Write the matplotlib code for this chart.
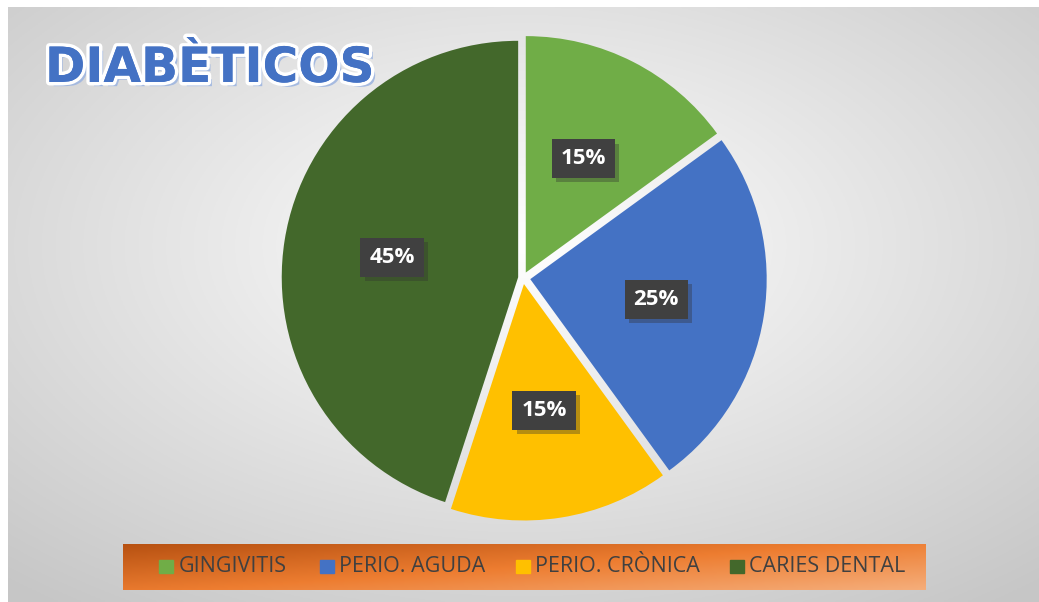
import numpy as np
import matplotlib.pyplot as plt
import matplotlib.patheffects as pe
from matplotlib.patches import Rectangle

labels = ['GINGIVITIS', 'PERIO. AGUDA', 'PERIO. CRÒNICA', 'CARIES DENTAL']
values = [15, 25, 15, 45]
colors = ['#70ad47', '#4472c4', '#ffc000', '#43682b']
title = 'DIABÈTICOS'

fig = plt.figure(figsize=(10.39, 6.02), dpi=100)
fig.patch.set_facecolor('white')

# background: radial grey gradient
bg = fig.add_axes([8/1039, 0, 1 - 8/1039, 1 - 7/602])
yy, xx = np.mgrid[0:300, 0:520]
cx, cy = 260, 120
r = np.sqrt(((xx - cx) / 520.0) ** 2 + ((yy - cy) / 300.0) ** 2)
r = np.clip(r / 0.75, 0, 1)
g = 1.0 - 0.22 * r
bg.imshow(np.dstack([g, g, g]), aspect='auto', extent=[0, 1, 0, 1], origin='upper')
bg.set_xlim(0, 1)
bg.set_ylim(0, 1)
bg.axis('off')

# legend bar with orange gradient
lx0, lx1 = 123 / 1039, 926 / 1039
ly0, ly1 = 1 - 590 / 602, 1 - 544 / 602
lg = fig.add_axes([lx0, ly0, lx1 - lx0, ly1 - ly0])
gx, gy = np.meshgrid(np.linspace(0, 1, 200), np.linspace(0, 1, 40))
t = np.clip(0.55 * gx + 0.45 * gy, 0, 1)
c0 = np.array([0.72, 0.32, 0.07])
c1 = np.array([0.93, 0.49, 0.19])
c2 = np.array([0.96, 0.68, 0.48])
img = np.where(t[..., None] < 0.5,
               c0 + (c1 - c0) * (t[..., None] / 0.5),
               c1 + (c2 - c1) * ((t[..., None] - 0.5) / 0.5))
lg.imshow(img, aspect='auto', extent=[0, 1, 0, 1], origin='upper')
lg.set_xlim(0, 1)
lg.set_ylim(0, 1)
lg.axis('off')

xs = [0.045, 0.245, 0.489, 0.756]
for x, lab, col in zip(xs, labels, colors):
    lg.add_patch(Rectangle((x, 0.37), 0.0174, 0.29, color=col, transform=lg.transAxes))
    lg.text(x + 0.024, 0.5, lab, transform=lg.transAxes, va='center', ha='left',
            fontsize=15.5, color='#404040', family='Open Sans')

# pie
ax = fig.add_axes([278/1039, 1 - 523/602, 490/1039, 490/602])
wedges, _, autotexts = ax.pie(values, colors=colors, startangle=90, counterclock=False,
                              explode=[0.025, 0.03, 0.025, 0.02], radius=0.965,
                              autopct='%d%%', pctdistance=0.54,
                              wedgeprops=dict(linewidth=0))
for at in autotexts:
    at.set_color('white')
    at.set_fontsize(16)
    at.set_fontweight('bold')
    at.set_family('Open Sans')
    at.set_bbox(dict(boxstyle='square,pad=0.4', facecolor='#404040', edgecolor='none'))
    at.get_bbox_patch().set_path_effects([
        pe.SimplePatchShadow(offset=(3, -3), shadow_rgbFace='#303030', alpha=0.35),
        pe.Normal()])
ax.set_aspect('equal')
ax.set_xlim(-1.0, 1.0)
ax.set_ylim(-1.0, 1.0)
ax.axis('off')

# title with outline and shadow
fig.text(45/1039, 1 - 68/602, title, fontsize=35, fontweight='bold', color='#4472c4',
         family='DejaVu Sans', va='center', ha='left',
         path_effects=[pe.withSimplePatchShadow(offset=(3, -3), shadow_rgbFace='#9fb6e0', alpha=0.9),
                       pe.withStroke(linewidth=5, foreground='white'),
                       pe.Normal()])

fig.savefig('out.png', dpi=100)
